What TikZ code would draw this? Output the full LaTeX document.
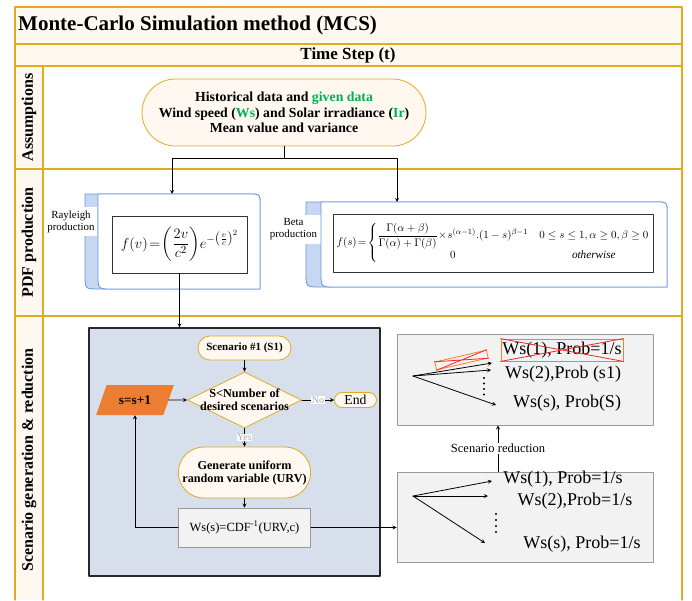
\documentclass[tikz,border=0pt]{standalone}
\usepackage{amsmath}
\usepackage{fontspec}
\setmainfont{Liberation Serif}
\usetikzlibrary{shapes.geometric,shapes.misc}
\definecolor{framegold}{RGB}{226,170,30}
\definecolor{cream}{RGB}{254,248,240}
\definecolor{cardblue}{RGB}{100,150,222}
\definecolor{stripblue}{RGB}{197,215,241}
\definecolor{panelblue}{RGB}{214,223,235}
\definecolor{panelline}{RGB}{40,40,40}
\definecolor{incorange}{RGB}{237,125,49}
\definecolor{boxgrey}{RGB}{242,242,242}
\definecolor{dgreen}{RGB}{0,176,80}
\definecolor{cutred}{RGB}{240,40,40}
\definecolor{cutorange}{RGB}{240,130,40}
\definecolor{flaggrey}{RGB}{170,170,170}
\newcommand{\fsz}[2]{\fontsize{#1}{#2}\selectfont}

\begin{document}
\begin{tikzpicture}[x=1pt,y=-1pt,line cap=round,line join=round,>=stealth,
  every node/.style={inner sep=1pt},
  frameline/.style={draw=framegold,line width=1.1pt},
  rowlabel/.style={rotate=90,font=\fsz{16}{18}\bfseries},
  pill/.style={rounded rectangle,draw=framegold,fill=cream,line width=0.8pt,font=\fsz{12}{14}\bfseries,align=center},
  card/.style={draw=cardblue,line width=0.8pt},
  formula/.style={draw=black!80,fill=white,line width=0.9pt},
  greybox/.style={draw=black!40,fill=boxgrey,line width=0.8pt},
  sidelabel/.style={fill=white,align=center,font=\fsz{10.9}{12}},
  flag/.style={fill=white,text=flaggrey,font=\fsz{10}{11},inner sep=0.5pt},
  arr/.style={->,line width=0.8pt},
  outtxt/.style={font=\fsz{18}{20}}]
  \useasboundingbox (0,0) rectangle (692,600);
  \fill[cream] (15,7) rectangle (682,66);
  \fill[cream] (15,66) rectangle (43,600);
  \draw[frameline] (15,600) -- (15,7) -- (682,7) -- (682,600);
  \foreach \y in {44,66,169,316} {
    \draw[frameline] (15,\y) -- (682,\y);
  }
  \draw[frameline] (43,66) -- (43,600);
  \node[anchor=west,font=\fsz{21}{24}\bfseries] (title) at (17,25.5) {Monte-Carlo Simulation method (MCS)};
  \node[font=\fsz{17}{20}\bfseries] (tstep) at (348,55) {Time Step (t)};
  \node[rowlabel] (lblA) at (29,117.5) {Assumptions};
  \node[rowlabel] (lblP) at (29,242.5) {PDF production};
  \node[rowlabel] (lblS) at (29,460) {Scenario generation \& reduction};

  \node[pill,minimum width=286,minimum height=67,font=\fsz{13.8}{15.5}\bfseries] (hist) at (284,112.5) {Historical data and \textcolor{dgreen}{given data}\\Wind speed (\textcolor{dgreen}{Ws}) and Solar irradiance (\textcolor{dgreen}{Ir})\\Mean value and variance};

  \draw[card,fill=stripblue] (85,194) -- (250,194) .. controls (260,194) .. (260,204) -- (260,289) -- (99,289) .. controls (85,289) .. (85,275) -- cycle;
  \node[sidelabel,minimum width=52,minimum height=29] (raylbl) at (71,221.5) {Rayleigh\\production};
  \draw[card,fill=white] (98,194) -- (250,194) .. controls (260,194) .. (260,204) -- (260,289) -- (112,289) .. controls (98,289) .. (98,275) -- cycle;
  \node[formula,minimum width=135,minimum height=57] (rayf) at (179.5,244.5) {\fsz{15.5}{18}$f(v)\!=\!\left(\dfrac{2v}{c^{2}}\right)\!e^{-\left(\frac{v}{c}\right)^{2}}$};

  \draw[card,fill=stripblue] (306,202) -- (657,202) .. controls (667,202) .. (667,212) -- (667,287) -- (320,287) .. controls (306,287) .. (306,273) -- cycle;
  \node[sidelabel,minimum width=54,minimum height=29] (betalbl) at (293.5,229.5) {Beta\\production};
  \draw[card,fill=white] (321,202) -- (657,202) .. controls (667,202) .. (667,212) -- (667,287) -- (335,287) .. controls (321,287) .. (321,273) -- cycle;
  \node[formula,minimum width=320,minimum height=58] (betaf) at (493,243) {\fsz{11.2}{14}$f(s)\!=\!\left\{\begin{array}{@{}c@{\quad}c@{}}\dfrac{\Gamma(\alpha+\beta)}{\Gamma(\alpha)+\Gamma(\beta)}\!\times\! s^{(\alpha-1)}.(1-s)^{\beta-1} & 0\le s\le 1,\alpha\ge 0,\beta\ge 0\\[2pt] 0 & \textit{otherwise}\end{array}\right.$};

  \coordinate (split) at (284,158);
  \coordinate (raytop) at (172,194);
  \coordinate (betatop) at (397,202);
  \draw[line width=0.8pt] (hist.south) -- (split);
  \draw[arr] (split) -| (raytop);
  \draw[arr] (split) -| (betatop);

  \node[draw=panelline,fill=panelblue,line width=1.1pt,minimum width=291,minimum height=248] (panel) at (234.5,452) {};
  \draw[arr] (rayf.south) -- (rayf.south |- panel.north);

  \node[pill,minimum width=95,minimum height=24,font=\fsz{11}{13}\bfseries] (scn) at (244.5,348) {Scenario \#1 (S1)};
  \node[diamond,draw=framegold,fill=cream,line width=0.8pt,minimum width=114,minimum height=56,inner sep=0] (check) at (244.5,400) {};
  \node[font=\fsz{12.2}{13}\bfseries,align=center] (checktxt) at (check) {S<Number of\\desired scenarios};
  \node[trapezium,trapezium left angle=60,trapezium right angle=120,trapezium stretches=true,minimum width=78,minimum height=30,fill=incorange,font=\fsz{13.3}{15}\bfseries] (inc) at (135,400) {s=s+1};
  \node[pill,minimum width=43,minimum height=15,inner sep=0.5pt,font=\fsz{13.7}{15}] (stop) at (355.5,400) {End};
  \node[pill,minimum width=130,minimum height=51,font=\fsz{12.2}{13}\bfseries] (gen) at (244.5,472.5) {Generate uniform\\random variable (URV)};
  \node[greybox,minimum width=132,minimum height=39,font=\fsz{12.5}{14}] (wsc) at (244.5,527.5) {Ws(s)=CDF\textsuperscript{-1}(URV,c)};
  \draw[arr] (scn) -- (check);
  \draw[arr] (inc) -- (check);
  \draw[arr] (check) -- node[flag] {No} (stop);
  \draw[arr] (check) -- node[flag] {Yes} (gen);
  \draw[arr] (gen) -- (wsc);
  \draw[arr] (wsc.west) -| (inc.south);

  \node[greybox,minimum width=256,minimum height=91] (red) at (525,379.5) {};
  \node[greybox,minimum width=256,minimum height=90] (cand) at (525,517) {};
  \draw[arr] (wsc.east) -- (wsc.east -| cand.west);
  \draw[arr] ([xshift=-27pt]cand.north) -- node[fill=white,font=\fsz{12.5}{14}] {Scenario reduction} ([xshift=-27pt]red.south);

  \coordinate (c0) at (413,496);
  \foreach \x/\y in {492/481,488/496,485/543} {
    \draw[arr] (c0) -- (\x,\y);
  }
  \foreach \y in {514,520,526,532} {
    \fill (496,\y) circle (1.1);
  }
  \node[outtxt] (c1) at (563,479) {Ws(1), Prob=1/s};
  \node[outtxt] (c2) at (575,501) {Ws(2),Prob=1/s};
  \node[outtxt] (c3) at (582,544) {Ws(s), Prob=1/s};

  \coordinate (r0) at (413,376);
  \foreach \x/\y in {492/363,491/370,496/405} {
    \draw[arr] (r0) -- (\x,\y);
  }
  \foreach \y in {378,383.5,389,394.5} {
    \fill (484,\y) circle (1.1);
  }
  \node[draw=cutorange,line width=0.8pt,rotate=13,minimum width=53,minimum height=8,inner sep=0] (cut) at (461.5,360) {};
  \draw[cutred,line width=0.8pt] (cut.north west) -- (cut.south east) (cut.south west) -- (cut.north east);
  \node[outtxt,draw=cutorange,line width=0.8pt,minimum width=122,minimum height=22,inner sep=0] (r1) at (562,350) {Ws(1), Prob=1/s};
  \draw[cutred,line width=0.8pt] (r1.north west) -- (r1.south east) (r1.south west) -- (r1.north east);
  \node[outtxt] (r2) at (563,374) {Ws(2),Prob (s1)};
  \node[outtxt] (r3) at (567,403) {Ws(s), Prob(S)};
\end{tikzpicture}
\end{document}
